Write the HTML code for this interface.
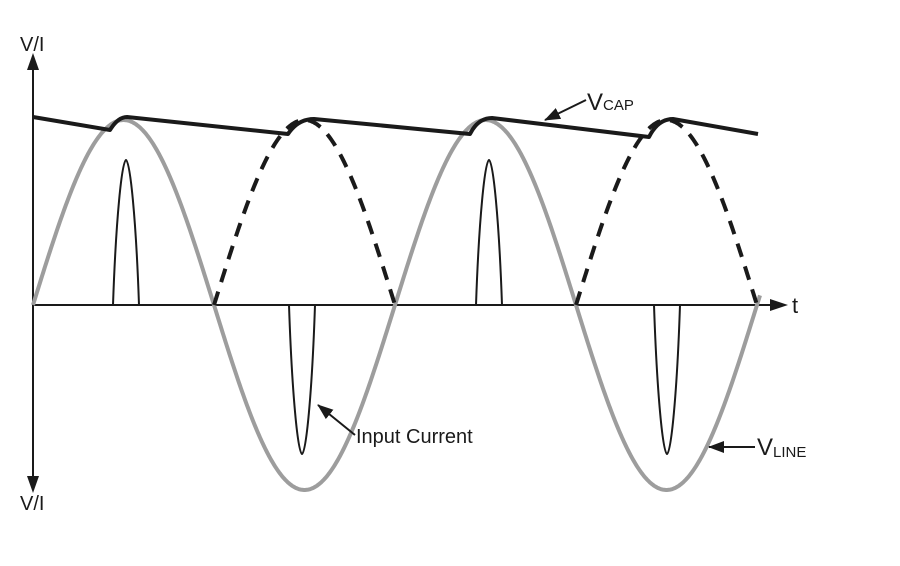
<!DOCTYPE html>
<html><head><meta charset="utf-8"><style>
html,body{margin:0;padding:0;background:#fff;}
svg{display:block;font-family:"Liberation Sans",sans-serif;}
</style></head><body>
<svg id="s" width="900" height="566" viewBox="0 0 900 566" xmlns="http://www.w3.org/2000/svg">
<defs>
<marker id="ah" markerWidth="16" markerHeight="12" refX="15" refY="6" orient="auto" markerUnits="userSpaceOnUse" viewBox="0 0 16 12">
<path d="M0,0 L16,6 L0,12 z" fill="#1a1a1a"/></marker>
</defs>
<line x1="33" y1="70" x2="33" y2="478" stroke="#1a1a1a" stroke-width="2"/>
<path d="M27,70 L33,53 L39,70 z" fill="#1a1a1a"/>
<path d="M27,476 L33,493 L39,476 z" fill="#1a1a1a"/>
<line x1="33" y1="305" x2="772" y2="305" stroke="#1a1a1a" stroke-width="2"/>
<path d="M770,299 L788,305 L770,311 z" fill="#1a1a1a"/>
<g id="curves"></g>
<text x="20" y="51" font-size="20" fill="#1a1a1a">V/I</text>
<text x="20" y="510" font-size="20" fill="#1a1a1a">V/I</text>
<text x="792" y="313" font-size="22" fill="#1a1a1a">t</text>
<text x="587" y="110" font-size="24" fill="#1a1a1a">V<tspan font-size="15">CAP</tspan></text>
<text x="356" y="443" font-size="20" fill="#1a1a1a">Input Current</text>
<text x="757" y="455" font-size="24" fill="#1a1a1a">V<tspan font-size="15" dy="2">LINE</tspan></text>
<line x1="586" y1="100" x2="545" y2="120" stroke="#1a1a1a" stroke-width="2" marker-end="url(#ah)"/>
<line x1="355" y1="435" x2="318" y2="405" stroke="#1a1a1a" stroke-width="2" marker-end="url(#ah)"/>
<line x1="755" y1="447" x2="709" y2="447" stroke="#1a1a1a" stroke-width="2" marker-end="url(#ah)"/>
</svg>
<script>
var g=document.getElementById('curves');
var x0=33,T=362,A=185,y0=305;
function sy(x){return y0-A*Math.sin(2*Math.PI*(x-x0)/T);}
function add(tag,attrs){var e=document.createElementNS('http://www.w3.org/2000/svg',tag);for(var k in attrs)e.setAttribute(k,attrs[k]);g.appendChild(e);return e;}
var d='';for(var x=33;x<=760;x+=1){d+=(x==33?'M':'L')+x+','+sy(x).toFixed(1)+' ';}
add('path',{d:d,fill:'none',stroke:'#9d9d9d','stroke-width':4});
[[214,395],[576,757]].forEach(function(r){var dd='';for(var x=r[0];x<=r[1];x+=1){var y=y0-A*Math.abs(Math.sin(2*Math.PI*(x-x0)/T));dd+=(x==r[0]?'M':'L')+x+','+y.toFixed(1)+' ';}
add('path',{d:dd,fill:'none',stroke:'#1a1a1a','stroke-width':4,'stroke-dasharray':'14 10'});});
[[113,139,160],[289,315,454],[476,502,160],[654,680,454]].forEach(function(p){var m=(p[0]+p[1])/2;
add('path',{d:'M'+p[0]+','+y0+' C'+(p[0]+3)+','+(y0+(p[2]-y0)*0.6)+' '+(m-4)+','+p[2]+' '+m+','+p[2]+' C'+(m+4)+','+p[2]+' '+(p[1]-3)+','+(y0+(p[2]-y0)*0.6)+' '+p[1]+','+y0,fill:'none',stroke:'#1a1a1a','stroke-width':2});});
add('path',{d:'M33,117 L110,130 Q118,117 127,117 L288,134 Q298,119 314,119 L470,134 Q478,118 492,118 L649,137 Q658,119 673,119 L758,134',fill:'none',stroke:'#1a1a1a','stroke-width':4,'stroke-linejoin':'round'});
</script>
</body></html>
